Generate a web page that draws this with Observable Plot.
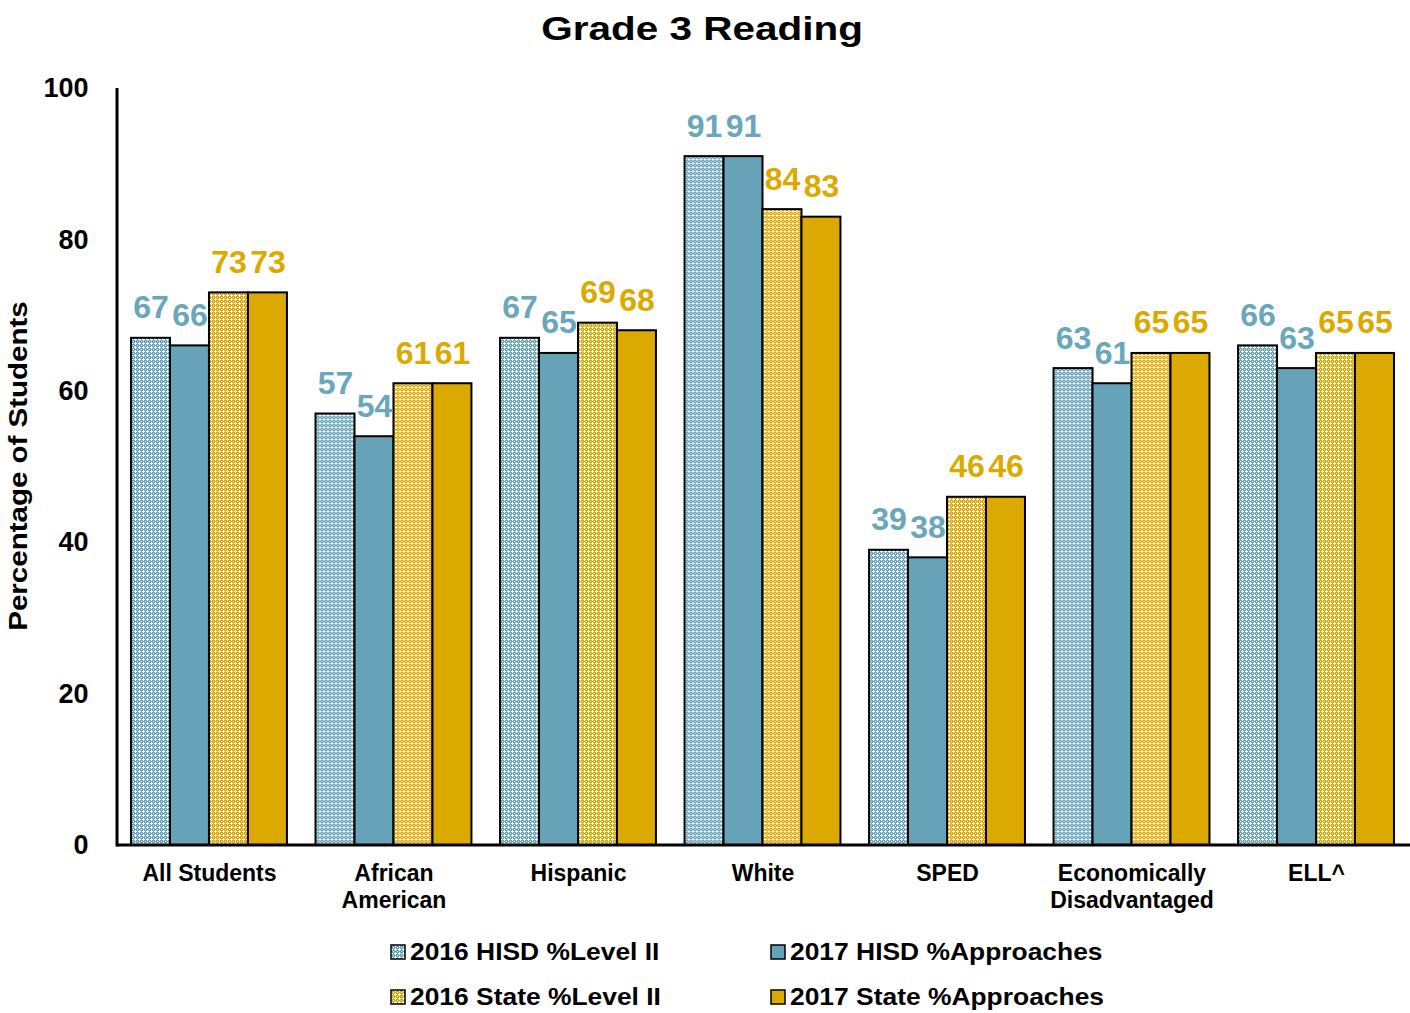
<!DOCTYPE html>
<html><head><meta charset="utf-8">
<script src="https://cdn.jsdelivr.net/npm/d3@7"></script>
<script src="https://cdn.jsdelivr.net/npm/@observablehq/plot@0.6"></script>
<style>
body{margin:0;background:#fff;font-family:Arial,"Liberation Sans",sans-serif;width:1410px;height:1013px;position:relative;overflow:hidden;color:#000}
#title{height:56px;line-height:56px;text-align:center;font-size:34px;font-weight:bold;padding-right:5px}
#title span{display:inline-block;transform:scaleX(1.19)}
#ylab{position:absolute;left:18px;top:466px;transform:translate(-50%,-50%) rotate(-90deg) scaleX(1.18);font-size:25px;font-weight:bold;white-space:nowrap}
#chart{position:absolute;left:0;top:58px}
.item{position:absolute;font-size:24px;font-weight:bold;display:flex;align-items:center;height:30px;white-space:nowrap}
.item svg{margin-right:4px}
.item span{display:inline-block;transform:scaleX(1.1);transform-origin:left center}
</style>
</head><body>
<svg width="0" height="0" style="position:absolute">
<defs>
<pattern id="patBlue" width="4" height="4" patternUnits="userSpaceOnUse">
<rect width="4" height="4" fill="#66a2b8"/>
<rect x="1" y="0" width="1" height="3" fill="#fff"/>
<rect x="0" y="1" width="3" height="1" fill="#fff"/>
<rect x="3" y="3" width="1" height="1" fill="#fff"/>
</pattern>
<pattern id="patGold" width="4" height="4" patternUnits="userSpaceOnUse">
<rect width="4" height="4" fill="#dba900"/>
<rect x="1" y="0" width="1" height="3" fill="#fff"/>
<rect x="0" y="1" width="3" height="1" fill="#fff"/>
<rect x="3" y="3" width="1" height="1" fill="#fff"/>
</pattern>
</defs>
</svg>
<div id="title"><span>Grade 3 Reading</span></div>
<div id="chart"></div>
<div id="ylab">Percentage of Students</div>
<div id="legend"></div>
<script>
const groups = ["All Students", "African American", "Hispanic", "White", "SPED", "Economically Disadvantaged", "ELL^"];
const groupTickLabels = ["All Students", "African\nAmerican", "Hispanic", "White", "SPED", "Economically\nDisadvantaged", "ELL^"];
const series = ["2016 HISD %Level II", "2017 HISD %Approaches", "2016 State %Level II", "2017 State %Approaches"];
const hisd2016 = [67, 57, 67, 91, 39, 63, 66];
const hisd2017 = [66, 54, 65, 91, 38, 61, 63];
const state2016 = [73, 61, 69, 84, 46, 65, 65];
const state2017 = [73, 61, 68, 83, 46, 65, 65];
const yTicks = [0, 20, 40, 60, 80, 100];

const seriesFills = ["url(#patBlue)", "#66a2b8", "url(#patGold)", "#dba900"];
const seriesLabelColors = ["#6aa6bc", "#6aa6bc", "#dba900", "#dba900"];

const valuesBySeries = [hisd2016, hisd2017, state2016, state2017];
const data = [];
groups.forEach((g, gi) => {
  series.forEach((s, si) => {
    data.push({group: g, series: s, si, value: valuesBySeries[si][gi]});
  });
});

const plot = Plot.plot({
  width: 1410,
  height: 862,
  marginTop: 30,
  marginBottom: 75,
  marginLeft: 117,
  marginRight: 2,
  style: {fontFamily: "Arial, 'Liberation Sans', sans-serif", color: "#000", background: "#fff"},
  fx: {domain: groups, paddingInner: 0.155, paddingOuter: 0.076, round: false, label: null},
  x: {domain: series, padding: 0, round: false, axis: null},
  y: {domain: [0, 100], label: null},
  color: {domain: series, range: seriesFills},
  marks: [
    Plot.axisY({ticks: yTicks, tickSize: 0, tickPadding: 43, fontSize: 27, fontWeight: "bold", label: null}),
    Plot.axisFx({anchor: "bottom", tickSize: 0, tickPadding: 16, fontSize: 23, fontWeight: "bold", lineHeight: 1.17, label: null,
      tickFormat: d => groupTickLabels[groups.indexOf(d)]}),
    Plot.barY(data, {fx: "group", x: "series", y: "value", fill: "series", stroke: "#000", strokeWidth: 2}),
    Plot.text(data.filter(d => d.si < 2), {fx: "group", x: "series", y: "value", text: d => String(d.value),
      fill: seriesLabelColors[0], dy: -20, lineAnchor: "bottom", fontSize: 32, fontWeight: "bold"}),
    Plot.text(data.filter(d => d.si >= 2), {fx: "group", x: "series", y: "value", text: d => String(d.value),
      fill: seriesLabelColors[2], dy: -20, lineAnchor: "bottom", fontSize: 32, fontWeight: "bold"})
  ]
});
document.getElementById("chart").appendChild(plot);

// axis lines using plot scales
const ys = plot.scale("y");
const fxs = plot.scale("fx");
const svg = d3.select(plot);
svg.append("line").attr("x1", fxs.range[0]).attr("x2", fxs.range[0])
  .attr("y1", ys.apply(100)).attr("y2", ys.apply(0) + 1.5).attr("stroke", "#000").attr("stroke-width", 3);
svg.append("line").attr("x1", fxs.range[0]).attr("x2", 1410)
  .attr("y1", ys.apply(0)).attr("y2", ys.apply(0)).attr("stroke", "#000").attr("stroke-width", 3);

// legend
const legendPos = [[390, 952], [770, 952], [390, 997], [770, 997]];
const legend = document.getElementById("legend");
series.forEach((s, i) => {
  const div = document.createElement("div");
  div.className = "item";
  div.style.left = legendPos[i][0] + "px";
  div.style.top = (legendPos[i][1] - 15) + "px";
  div.innerHTML = `<svg width="16" height="16"><rect x="1" y="1" width="14" height="14" fill="${seriesFills[i]}" stroke="#000" stroke-width="1.5"/></svg><span>${s}</span>`;
  legend.appendChild(div);
});
</script>
</body></html>
